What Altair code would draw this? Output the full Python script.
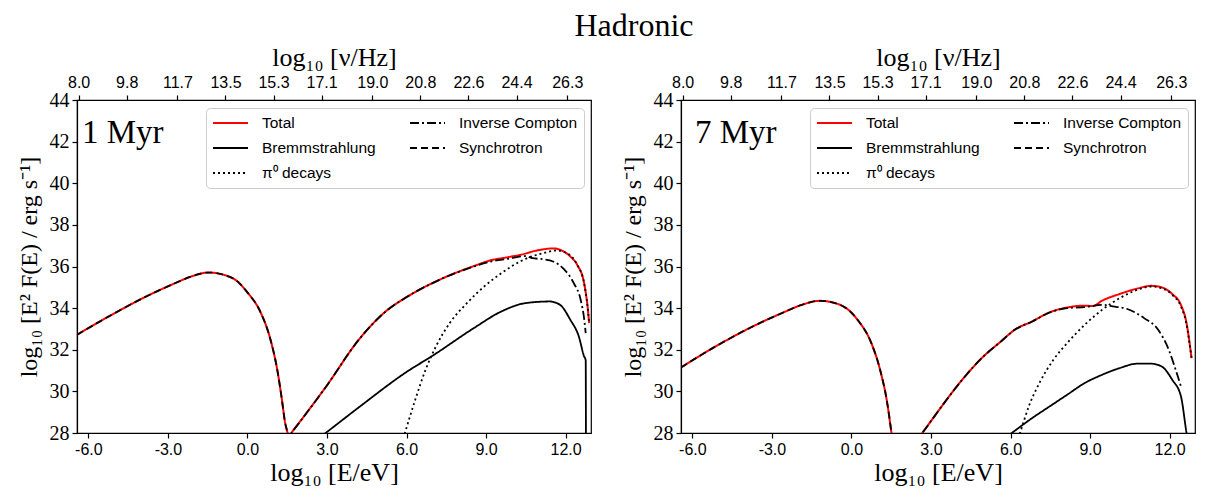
import altair as alt
import pandas as pd

SERIF = "Liberation Serif"
SANS = "Liberation Sans"

COMPONENTS = ["Total", "Bremmstrahlung", "π⁰ decays", "Inverse Compton", "Synchrotron"]
COLORS = ["#ff0000", "#000000", "#000000", "#000000", "#000000"]
DASHES = [[1, 0], [1, 0], [2, 3], [9, 3, 2, 3], [7, 4]]

E_TICKS = [-6, -3, 0, 3, 6, 9, 12]
NU_TICKS = [8.0, 9.8, 11.7, 13.5, 15.3, 17.1, 19.0, 20.8, 22.6, 24.4, 26.3]
Y_TICKS = [28, 30, 32, 34, 36, 38, 40, 42, 44]
E_DOMAIN = [-6.43, 12.96]
NU_DOMAIN = [7.94, 27.19]
Y_DOMAIN = [28, 44]

# ---------------- 1 Myr ----------------
tot1_E = [-6.43, -5.12, -3.82, -2.78, -2.12, -1.47, -0.56, 0.02, 0.48, 0.87, 1.13, 1.3, 1.42, 1.52, 1.59,
          1.66, 2.04, 2.95, 4.25, 5.29, 5.94, 7.24, 8.54, 9.19, 9.84, 10.49, 10.75, 11.14, 11.53, 11.8,
          12.18, 12.44, 12.70, 12.83, 12.89]
tot1_Y = [32.72, 33.68, 34.56, 35.17, 35.52, 35.71, 35.44, 34.72, 33.84, 32.48, 31.0, 29.6, 28.5, 28.0, 27.85,
          28.0, 28.64, 30.2, 32.56, 33.92, 34.48, 35.36, 36.02, 36.3, 36.45, 36.62, 36.72, 36.82, 36.87, 36.8,
          36.48, 36.08, 35.2, 34.08, 33.28]
sync1_E = [-6.43, -5.12, -3.82, -2.78, -2.12, -1.47, -0.56, 0.02, 0.48, 0.87, 1.13, 1.3, 1.42, 1.52, 1.6]
sync1_Y = [32.72, 33.68, 34.56, 35.17, 35.52, 35.71, 35.44, 34.72, 33.84, 32.48, 31.0, 29.6, 28.5, 28.0, 27.4]
ic1_E = [1.35, 1.66, 2.04, 2.95, 4.25, 5.29, 5.94, 7.24, 8.54, 9.19, 9.84, 10.49, 10.75, 11.14, 11.53,
         11.92, 12.31, 12.57, 12.7, 12.76]
ic1_Y = [27.5, 28.0, 28.64, 30.2, 32.56, 33.92, 34.48, 35.36, 36.0, 36.24, 36.37, 36.5, 36.4, 36.35, 36.24,
         35.9, 35.2, 34.4, 33.5, 32.8]
pi1_E = [5.82, 5.94, 6.33, 6.72, 7.11, 7.63, 8.28, 8.93, 9.58, 10.36, 11.14, 11.66, 12.05, 12.44, 12.70,
         12.83, 12.89]
pi1_Y = [27.5, 28.0, 29.6, 31.04, 32.16, 33.28, 34.24, 35.04, 35.68, 36.29, 36.64, 36.77, 36.64, 36.08, 35.2,
         34.08, 33.28]
brem1_E = [2.44, 2.95, 4.25, 5.94, 7.04, 8.54, 9.58, 10.49, 11.40, 11.79, 12.18, 12.5, 12.70, 12.76, 12.77]
brem1_Y = [27.5, 28.0, 29.28, 30.88, 31.76, 33.04, 33.84, 34.24, 34.32, 34.16, 33.44, 32.64, 31.68, 31.5, 27.0]

# ---------------- 7 Myr ----------------
tot7_E = [-6.43, -5.07, -3.69, -2.59, -1.89, -1.2, -0.43, 0.23, 0.75, 1.08, 1.35, 1.51, 1.6, 2.0, 2.3, 2.67,
          3.13, 3.59, 4.18, 4.98, 5.64, 6.16, 6.82, 7.48, 8.14, 8.8, 9.1, 9.46, 10.12, 10.78, 11.31, 11.7,
          12.1, 12.43, 12.63, 12.83]
tot7_Y = [31.15, 32.2, 33.14, 33.78, 34.15, 34.35, 34.16, 33.44, 32.32, 31.04, 29.44, 28.0, 27.2, 26.3, 27.4,
          28.0, 28.8, 29.6, 30.56, 31.68, 32.4, 32.96, 33.36, 33.8, 34.03, 34.12, 34.1, 34.36, 34.68, 34.94,
          35.07, 35.0, 34.68, 34.15, 33.35, 31.6]
sync7_E = [-6.43, -5.07, -3.69, -2.59, -1.89, -1.2, -0.43, 0.23, 0.75, 1.08, 1.35, 1.51, 1.58]
sync7_Y = [31.15, 32.2, 33.14, 33.78, 34.15, 34.35, 34.16, 33.44, 32.32, 31.04, 29.44, 28.0, 27.3]
ic7_E = [2.3, 2.67, 3.13, 3.59, 4.18, 4.98, 5.64, 6.16, 6.82, 7.48, 8.14, 8.8, 9.46, 9.86, 10.38, 11.04,
         11.57, 11.97, 12.23, 12.43]
ic7_Y = [27.4, 28.0, 28.8, 29.6, 30.56, 31.68, 32.4, 32.96, 33.36, 33.79, 34.0, 34.05, 34.16, 34.08, 33.97,
         33.52, 32.96, 32.0, 31.04, 30.24]
pi7_E = [6.23, 6.36, 6.69, 7.09, 7.62, 8.14, 8.8, 9.46, 10.12, 10.78, 11.31, 11.70, 12.10, 12.43, 12.63, 12.83]
pi7_Y = [27.5, 28.0, 29.28, 30.4, 31.52, 32.32, 33.2, 33.92, 34.48, 34.88, 35.04, 34.96, 34.64, 34.08, 33.28, 31.6]
brem7_E = [5.52, 6.05, 6.82, 7.48, 8.14, 8.8, 9.46, 10.12, 10.78, 11.31, 11.70, 12.10, 12.43, 12.63, 12.7]
brem7_Y = [27.5, 28.0, 28.72, 29.28, 29.84, 30.4, 30.8, 31.12, 31.33, 31.33, 31.2, 30.56, 29.76, 28.08, 27.5]

PANELS = [
    ("1 Myr", 5, {"Total": (tot1_E, tot1_Y), "Synchrotron": (sync1_E, sync1_Y),
                  "Inverse Compton": (ic1_E, ic1_Y), "π⁰ decays": (pi1_E, pi1_Y),
                  "Bremmstrahlung": (brem1_E, brem1_Y)}),
    ("7 Myr", 14, {"Total": (tot7_E, tot7_Y), "Synchrotron": (sync7_E, sync7_Y),
                   "Inverse Compton": (ic7_E, ic7_Y), "π⁰ decays": (pi7_E, pi7_Y),
                   "Bremmstrahlung": (brem7_E, brem7_Y)}),
]

W, H = 514, 333
HYPHEN_FMT = "replace(format(datum.value, '.1f'), '\u2212', '-')"


def legend():
    return alt.Legend(orient="none", legendX=129, legendY=8, columns=2, title=None,
                      labelFont=SANS, labelFontSize=15.5, labelColor="black",
                      symbolType="stroke", symbolSize=1225, symbolStrokeWidth=2,
                      clipHeight=18, columnPadding=33, rowPadding=7, padding=6,
                      labelOffset=13, labelLimit=300,
                      fillColor="rgba(255,255,255,0.8)", strokeColor="#cccccc", cornerRadius=4)


def make_panel(label, label_x, series):
    rows = []
    for comp, (es, ys) in series.items():
        for e, v in zip(es, ys):
            rows.append({"component": comp, "E": e, "Y": v})
    df = pd.DataFrame(rows)

    x = alt.X("E:Q", scale=alt.Scale(domain=E_DOMAIN, nice=False, zero=False),
              axis=alt.Axis(orient="bottom", values=E_TICKS, labelExpr=HYPHEN_FMT,
                            title="log₁₀ [E/eV]",
                            labelFont=SANS, labelFontSize=16, labelPadding=3, labelFlush=False,
                            labelOverlap=False, titleFont=SERIF, titleFontSize=26,
                            titleFontWeight="normal", titlePadding=2))
    y = alt.Y("Y:Q", scale=alt.Scale(domain=Y_DOMAIN, nice=False, zero=False),
              axis=alt.Axis(values=Y_TICKS, format="d", title="log₁₀ [E² F(E) / erg s⁻¹]",
                            labelFont=SERIF, labelFontSize=20, labelPadding=3, labelFlush=False,
                            titleFont=SERIF, titleFontSize=24, titleFontWeight="normal",
                            titlePadding=8))
    color = alt.Color("component:N", scale=alt.Scale(domain=COMPONENTS, range=COLORS),
                      legend=legend())
    dash = alt.StrokeDash("component:N", scale=alt.Scale(domain=COMPONENTS, range=DASHES),
                          legend=legend())

    total = alt.Chart(df[df.component == "Total"]).mark_line(
        clip=True, strokeWidth=2, interpolate="monotone").encode(
        x=x, y=y, color=color, strokeDash=dash)
    others = alt.Chart(df[df.component != "Total"]).mark_line(
        clip=True, strokeWidth=1.8, interpolate="monotone").encode(
        x=x, y=y, color=color, strokeDash=dash)
    txt = alt.Chart(pd.DataFrame({"t": [label]})).mark_text(
        font=SERIF, fontSize=33, align="left", baseline="alphabetic", color="black").encode(
        text="t:N", x=alt.value(label_x), y=alt.value(43))
    lines = alt.layer(total, others, txt)

    top = alt.Chart(pd.DataFrame({"nu": NU_TICKS})).mark_point(opacity=0).encode(
        x=alt.X("nu:Q", scale=alt.Scale(domain=NU_DOMAIN, nice=False, zero=False),
                axis=alt.Axis(orient="top", values=NU_TICKS, format=".1f", title="log₁₀ [ν/Hz]",
                              labelFont=SANS, labelFontSize=16, labelPadding=5, labelFlush=False,
                              labelOverlap=False, titleFont=SERIF, titleFontSize=26,
                              titleFontWeight="normal", titlePadding=4)),
        y=alt.value(0))
    return alt.layer(lines, top).resolve_scale(x="independent").properties(width=W, height=H)


panels = [make_panel(l, lx, s) for l, lx, s in PANELS]

chart = alt.hconcat(*panels, spacing=28).resolve_scale(
    color="independent", strokeDash="independent").resolve_legend(
    color="independent", strokeDash="independent").properties(
    title=alt.TitleParams("Hadronic", font=SERIF, fontSize=32, fontWeight="normal",
                          anchor="middle", dx=28, offset=0, color="black"),
    padding={"left": 8, "top": 2, "right": 0, "bottom": 0},
).configure_view(stroke="black", strokeWidth=1.2).configure_axis(
    grid=False, tickSize=5, tickColor="black", tickWidth=1.2, domainColor="black",
    domainWidth=1.2, labelColor="black", titleColor="black")

chart.save("out.html", embed_options={"renderer": "svg", "actions": False})
